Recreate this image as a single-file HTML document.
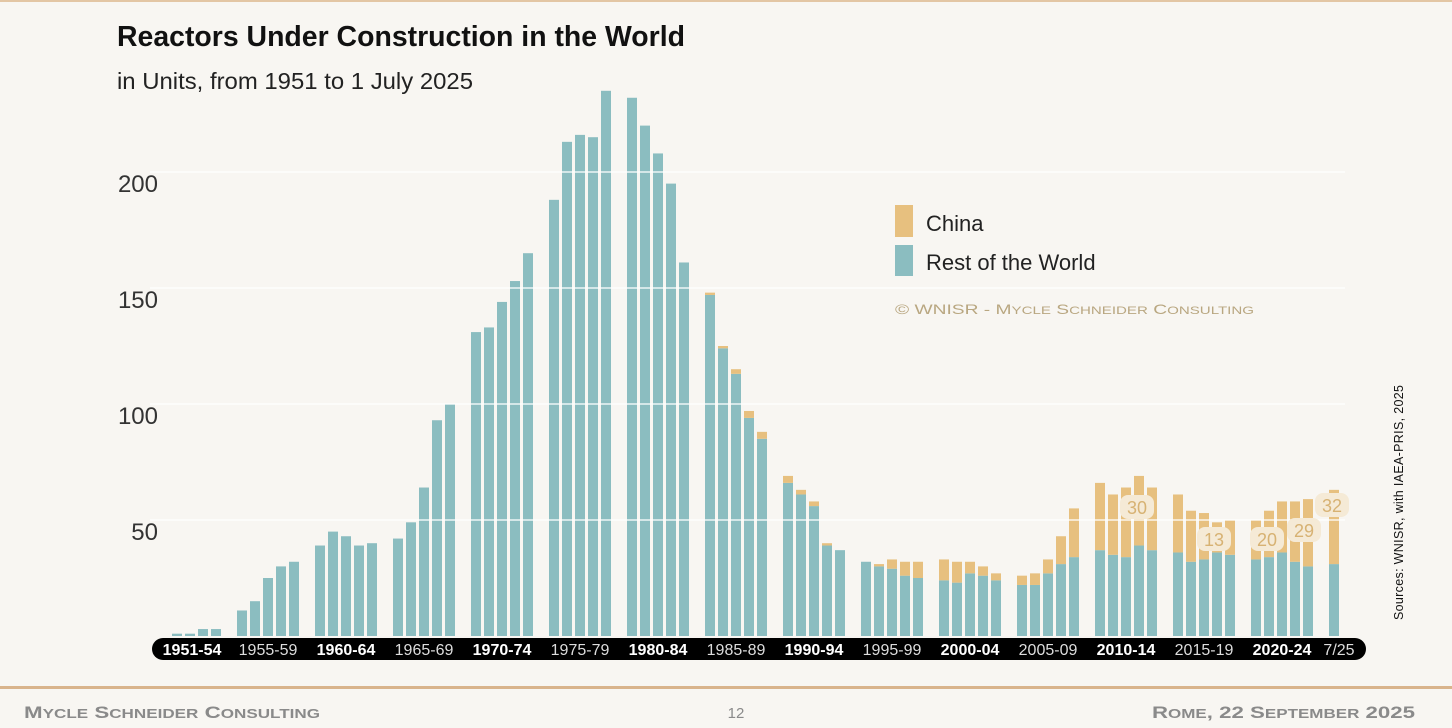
<!DOCTYPE html>
<html><head><meta charset="utf-8"><style>
html,body{margin:0;padding:0;background:#f8f6f2;}
body{width:1452px;height:728px;overflow:hidden;position:relative;font-family:"Liberation Sans",sans-serif;}
</style></head><body>
<svg id="s" width="1452" height="728" viewBox="0 0 1452 728" xmlns="http://www.w3.org/2000/svg" style="position:absolute;left:0;top:0">
<rect x="0" y="0" width="1452" height="728" fill="#f8f6f2"/>
<rect x="0" y="0" width="1452" height="2" fill="#e3c6a4"/>
<text x="117" y="46" font-size="29" font-weight="bold" fill="#111" font-family="Liberation Sans Narrow, Liberation Sans, sans-serif" textLength="568" lengthAdjust="spacingAndGlyphs">Reactors Under Construction in the World</text>
<text x="117" y="89" font-size="23" fill="#222" font-family="Liberation Sans Narrow, Liberation Sans, sans-serif" textLength="356" lengthAdjust="spacingAndGlyphs">in Units, from 1951 to 1 July 2025</text>
<g font-size="24" fill="#333" text-anchor="end" font-family="Liberation Sans, sans-serif">
<text x="158" y="192">200</text><text x="158" y="308">150</text><text x="158" y="424">100</text><text x="158" y="540">50</text>
</g>
<g id="bars"></g>
<g id="grid" stroke="#ffffff" stroke-width="1.5" opacity="0.85">
<line x1="150" x2="1345" y1="520" y2="520"/><line x1="150" x2="1345" y1="404" y2="404"/><line x1="150" x2="1345" y1="288" y2="288"/><line x1="150" x2="1345" y1="172" y2="172"/>
</g>
<rect x="152" y="638" width="1214" height="22" rx="11" fill="#000"/>
<g font-size="16" text-anchor="middle" font-family="Liberation Sans, sans-serif">
<text x="192" y="655" fill="#fff" font-weight="bold">1951-54</text>
<text x="268" y="655" fill="#ddd">1955-59</text>
<text x="346" y="655" fill="#fff" font-weight="bold">1960-64</text>
<text x="424" y="655" fill="#ddd">1965-69</text>
<text x="502" y="655" fill="#fff" font-weight="bold">1970-74</text>
<text x="580" y="655" fill="#ddd">1975-79</text>
<text x="658" y="655" fill="#fff" font-weight="bold">1980-84</text>
<text x="736" y="655" fill="#ddd">1985-89</text>
<text x="814" y="655" fill="#fff" font-weight="bold">1990-94</text>
<text x="892" y="655" fill="#ddd">1995-99</text>
<text x="970" y="655" fill="#fff" font-weight="bold">2000-04</text>
<text x="1048" y="655" fill="#ddd">2005-09</text>
<text x="1126" y="655" fill="#fff" font-weight="bold">2010-14</text>
<text x="1204" y="655" fill="#ddd">2015-19</text>
<text x="1282" y="655" fill="#fff" font-weight="bold">2020-24</text>
<text x="1339" y="655" fill="#ddd">7/25</text>
</g>
<g id="lbl" font-size="18" fill="#d7b273" text-anchor="middle" font-family="Liberation Sans, sans-serif">
<rect x="1120" y="495" width="34" height="24" rx="8" fill="#f5ead6"/><text x="1137" y="514">30</text>
<rect x="1197" y="527" width="34" height="24" rx="8" fill="#f5ead6"/><text x="1214" y="546">13</text>
<rect x="1250" y="527" width="34" height="24" rx="8" fill="#f5ead6"/><text x="1267" y="546">20</text>
<rect x="1287" y="518" width="34" height="24" rx="8" fill="#f5ead6"/><text x="1304" y="537">29</text>
<rect x="1315" y="493" width="34" height="24" rx="8" fill="#f5ead6"/><text x="1332" y="512">32</text>
</g>
<rect x="895" y="205" width="18" height="32" fill="#e7c07f"/>
<rect x="895" y="245" width="18" height="31" fill="#8bbdc0"/>
<g font-size="22" fill="#222" font-family="Liberation Sans, sans-serif">
<text x="926" y="231">China</text><text x="926" y="270">Rest of the World</text>
</g>
<text x="895" y="314" font-size="14" fill="#b9a781" font-family="Liberation Sans, sans-serif" textLength="359" lengthAdjust="spacingAndGlyphs">© WNISR - M<tspan font-size="11">YCLE</tspan> S<tspan font-size="11">CHNEIDER</tspan> C<tspan font-size="11">ONSULTING</tspan></text>
<text transform="translate(1403,620) rotate(-90)" font-size="12.5" fill="#111" font-family="Liberation Sans, sans-serif" textLength="235">Sources: WNISR, with IAEA-PRIS, 2025</text>
<rect x="0" y="686" width="1452" height="3" fill="#d9b48c"/>
<g font-size="17" fill="#8a8a8a" font-weight="bold" font-family="Liberation Sans Narrow, Liberation Sans, sans-serif">
<text x="24" y="718" textLength="296" lengthAdjust="spacingAndGlyphs">M<tspan font-size="13">YCLE</tspan> S<tspan font-size="13">CHNEIDER</tspan> C<tspan font-size="13">ONSULTING</tspan></text>
<text x="736" y="718" text-anchor="middle" font-weight="normal" font-size="15">12</text>
<text x="1152" y="718" textLength="263" lengthAdjust="spacingAndGlyphs">R<tspan font-size="13">OME</tspan>, 22 S<tspan font-size="13">EPTEMBER</tspan> 2025</text>
</g>
</svg>
<script>
var tot={1951:1,1952:1,1953:3,1954:3,1955:11,1956:15,1957:25,1958:30,1959:32,1960:39,1961:45,1962:43,1963:39,1964:40,1965:42,1966:49,1967:64,1968:93,1969:100,1970:131,1971:133,1972:144,1973:153,1974:165,1975:188,1976:213,1977:216,1978:215,1979:235,1980:232,1981:220,1982:208,1983:195,1984:161,1985:148,1986:125,1987:115,1988:97,1989:88,1990:69,1991:63,1992:58,1993:40,1994:37,1995:32,1996:31,1997:33,1998:32,1999:32,2000:33,2001:32,2002:32,2003:30,2004:27,2005:26,2006:27,2007:33,2008:43,2009:55,2010:66,2011:61,2012:64,2013:69,2014:64,2015:61,2016:54,2017:53,2018:49,2019:50,2020:50,2021:54,2022:58,2023:58,2024:59,2025:63};
var chn={1985:1,1986:1,1987:2,1988:3,1989:3,1990:3,1991:2,1992:2,1993:1,1996:1,1997:4,1998:6,1999:7,2000:9,2001:9,2002:5,2003:4,2004:3,2005:4,2006:5,2007:6,2008:12,2009:21,2010:29,2011:26,2012:30,2013:30,2014:27,2015:25,2016:22,2017:20,2018:13,2019:15,2020:17,2021:20,2022:22,2023:26,2024:29,2025:32};
var g=document.getElementById('bars'),h='';
for(var y=1951;y<=2025;y++){var k=y-1950,x=159+Math.floor(k/5)*78+(k%5)*13,t=tot[y],c=chn[y]||0,r=t-c;
h+='<rect x="'+x+'" y="'+(636-r*2.32)+'" width="10" height="'+(r*2.32)+'" fill="#8bbdc0"/>';
if(c)h+='<rect x="'+x+'" y="'+(636-t*2.32)+'" width="10" height="'+(c*2.32)+'" fill="#e7c07f"/>';}
g.innerHTML=h;
</script>
</body></html>
